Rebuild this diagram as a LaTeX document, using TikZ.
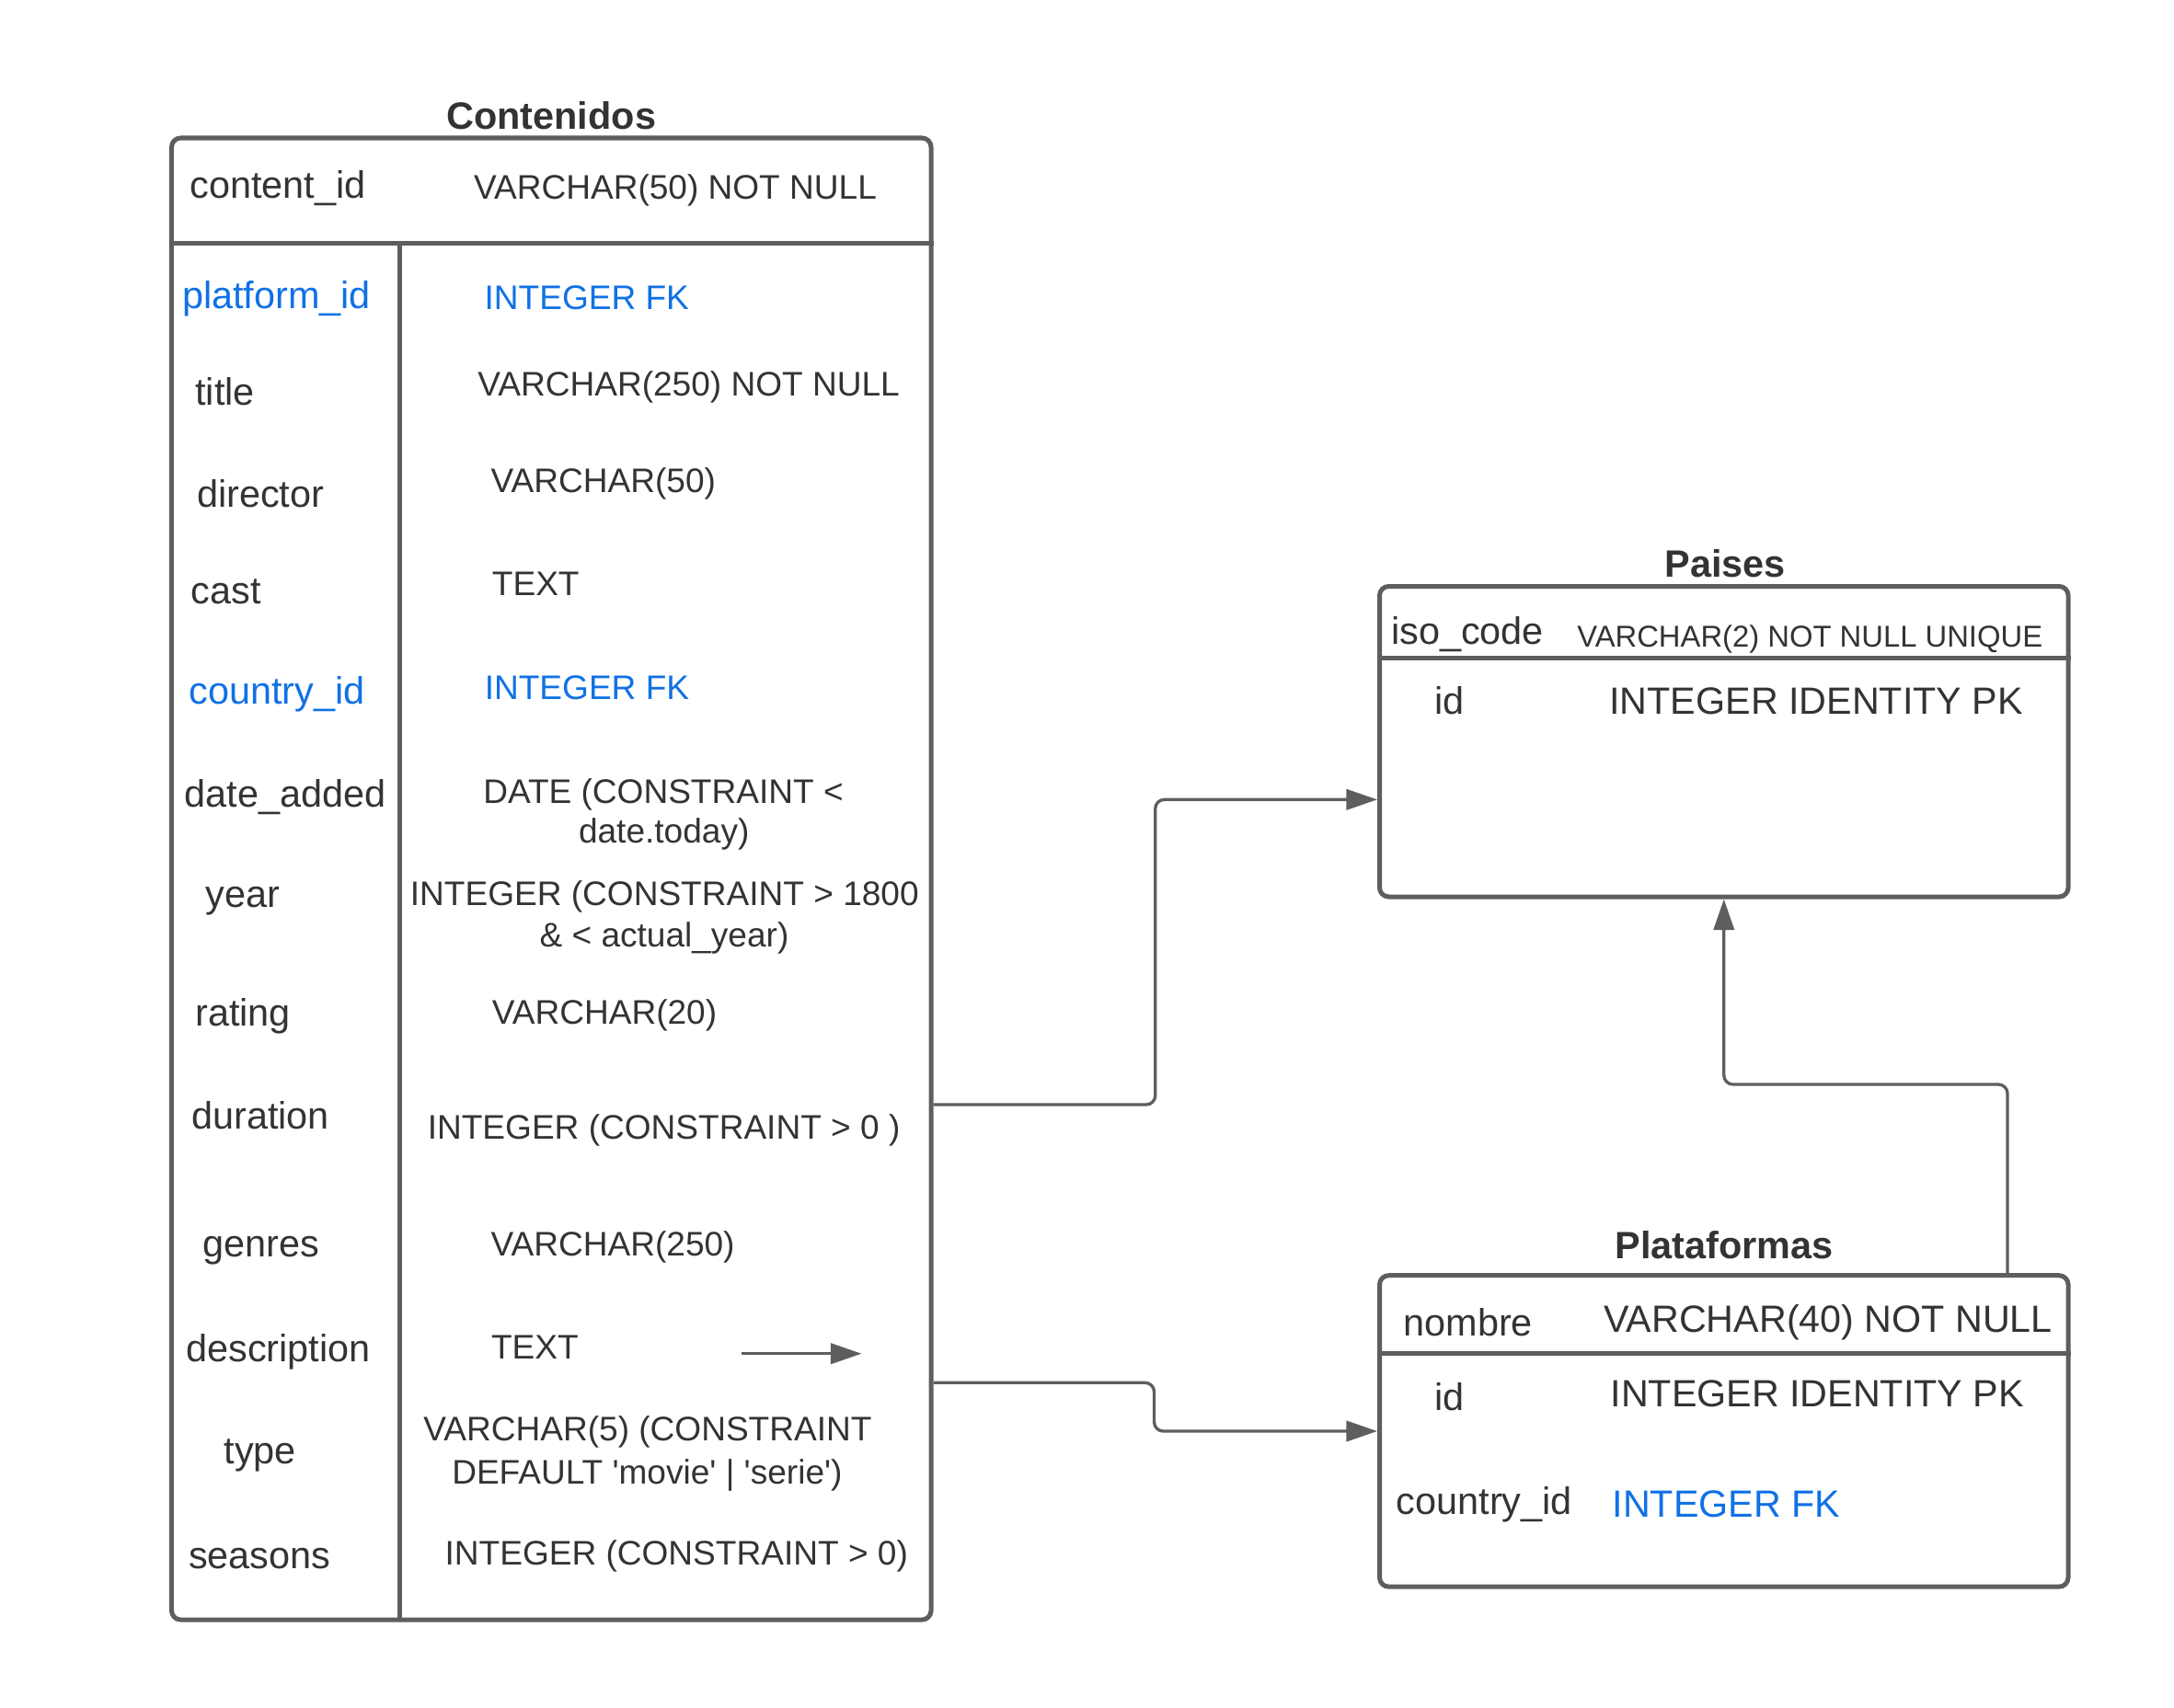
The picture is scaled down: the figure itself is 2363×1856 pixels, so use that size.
\documentclass[tikz,border=0pt]{standalone}
\usepackage{fontspec}
\setmainfont{Liberation Sans}
\usetikzlibrary{arrows.meta}
\definecolor{linegray}{HTML}{5E5E5E}
\definecolor{txtgray}{HTML}{333333}
\definecolor{fkblue}{HTML}{1071E5}
\begin{document}
\begin{tikzpicture}[x=0.33333pt,y=-0.33333pt,
  tbl/.style={draw=linegray, line width=1.67pt, rounded corners=3.3pt, inner sep=0pt},
  rulel/.style={draw=linegray, line width=1.67pt},
  conn/.style={draw=linegray, line width=1.1pt, rounded corners=3.3pt, -{Triangle[length=11.2pt,width=7.4pt]}},
  nm/.style={anchor=base west, inner sep=0pt, text=txtgray, font=\fontsize{13.8}{16}\selectfont},
  ty/.style={anchor=base west, inner sep=0pt, text=txtgray, font=\fontsize{12.35}{15}\selectfont},
  tyc/.style={ty, anchor=base},
  bigtype/.style={anchor=base west, inner sep=0pt, text=txtgray, font=\fontsize{13.75}{16}\selectfont},
  smalltype/.style={anchor=base west, inner sep=0pt, text=txtgray, font=\fontsize{10.93}{13}\selectfont},
  fk/.style={text=fkblue},
  ttl/.style={anchor=base, inner sep=0pt, text=txtgray, font=\bfseries\fontsize{13.8}{16}\selectfont}]
\fill[white] (0,0) rectangle (2363,1856);
\useasboundingbox (0,0) rectangle (2363,1856);

% ---------- Contenidos ----------
\node[tbl, minimum width=275.17pt, minimum height=537pt] (cont) at (599.25,955.5) {};
\draw[rulel] (cont.west |- 0,264.5) -- (cont.east |- 0,264.5);
\draw[rulel] (434,264.5) -- (434,1761);
\node[ttl] (tcont) at (599.2,140.7) {Contenidos};

\node[nm] (c1n) at (205.7,215) {content\_id};
\node[ty] (c1t) at (514.5,216.7) {VARCHAR(50) NOT NULL};
\node[nm, fk] (c2n) at (197.6,335) {platform\_id};
\node[ty, fk] (c2t) at (526,336.7) {INTEGER FK};
\node[nm] (c3n) at (211.7,440) {title};
\node[ty] (c3t) at (518.8,430.4) {VARCHAR(250) NOT NULL};
\node[nm] (c4n) at (213.4,551.8) {director};
\node[ty] (c4t) at (533.1,535.7) {VARCHAR(50)};
\node[nm] (c5n) at (207,656.4) {cast};
\node[ty] (c5t) at (534.3,647) {TEXT};
\node[nm, fk] (c6n) at (204.8,765.4) {country\_id};
\node[ty, fk] (c6t) at (526.2,760.7) {INTEGER FK};
\node[nm] (c7n) at (200.2,877.5) {date\_added};
\node[tyc] (c7a) at (721,873.2) {DATE (CONSTRAINT <};
\node[tyc] (c7b) at (721.7,916.8) {date.today)};
\node[nm] (c8n) at (223,986.4) {year};
\node[tyc] (c8a) at (722.3,984.6) {INTEGER (CONSTRAINT > 1800};
\node[tyc] (c8b) at (722,1029.3) {\& < actual\_year)};
\node[nm] (c9n) at (211.7,1115) {rating};
\node[ty] (c9t) at (534.3,1113.2) {VARCHAR(20)};
\node[nm] (c10n) at (207.6,1227.5) {duration};
\node[ty] (c10t) at (464.2,1238.2) {INTEGER (CONSTRAINT > 0 )};
\node[nm] (c11n) at (220.3,1366.8) {genres};
\node[ty] (c11t) at (533.1,1365) {VARCHAR(250)};
\node[nm] (c12n) at (201.7,1480) {description};
\node[ty] (c12t) at (533.5,1477.3) {TEXT};
\node[nm] (c13n) at (243,1591.7) {type};
\node[tyc] (c13a) at (704,1566.7) {VARCHAR(5) (CONSTRAINT};
\node[tyc] (c13b) at (703.4,1613.3) {DEFAULT \textquotesingle movie\textquotesingle{} | \textquotesingle serie\textquotesingle)};
\node[nm] (c14n) at (204.5,1705) {seasons};
\node[ty] (c14t) at (483,1701.7) {INTEGER (CONSTRAINT > 0)};

% ---------- Paises ----------
\node[tbl, minimum width=249.5pt, minimum height=112.5pt] (pai) at (1873.75,806.25) {};
\draw[rulel] (pai.west |- 0,715) -- (pai.east |- 0,715);
\node[ttl] (tpai) at (1875,627.3) {Paises};
\node[nm] (p1n) at (1511.6,700.7) {iso\_code};
\node[smalltype] (p1t) at (1713.7,703.3) {VARCHAR(2) NOT NULL UNIQUE};
\node[nm] (p2n) at (1559,776.7) {id};
\node[bigtype] (p2t) at (1748.9,776.7) {INTEGER IDENTITY PK};

% ---------- Plataformas ----------
\node[tbl, minimum width=249.5pt, minimum height=112.8pt] (plat) at (1873.75,1555.9) {};
\draw[rulel] (plat.west |- 0,1471.7) -- (plat.east |- 0,1471.7);
\node[ttl] (tplat) at (1874,1368.3) {Plataformas};
\node[nm] (q1n) at (1524.9,1452.7) {nombre};
\node[bigtype] (q1t) at (1742.8,1448.3) {VARCHAR(40) NOT NULL};
\node[nm] (q2n) at (1559,1533.3) {id};
\node[bigtype] (q2t) at (1750,1529.3) {INTEGER IDENTITY PK};
\node[nm] (q3n) at (1517.2,1646.7) {country\_id};
\node[bigtype, fk] (q3t) at (1752,1649.3) {INTEGER FK};

% ---------- connectors ----------
\coordinate (k1) at (0,1201);
\coordinate (k2) at (0,869.3);
\coordinate (k3) at (0,1503.3);
\coordinate (k4) at (0,1556);
\coordinate (bx1) at (1255.7,0);
\coordinate (bx2) at (1254.5,0);
\coordinate (bx3) at (2182,0);
\coordinate (k5) at (0,1179);

\draw[conn] (cont.east |- k1) -| (bx1 |- k2) -- (pai.west |- k2);
\draw[conn] (cont.east |- k3) -| (bx2 |- k4) -- (plat.west |- k4);
\draw[conn] (plat.north -| bx3) -- (bx3 |- k5) -| (pai.south);

\coordinate (sa) at (806,1471.7);
\coordinate (sb) at (936.5,1471.7);
\draw[conn] (sa) -- (sb);
\end{tikzpicture}
\end{document}
